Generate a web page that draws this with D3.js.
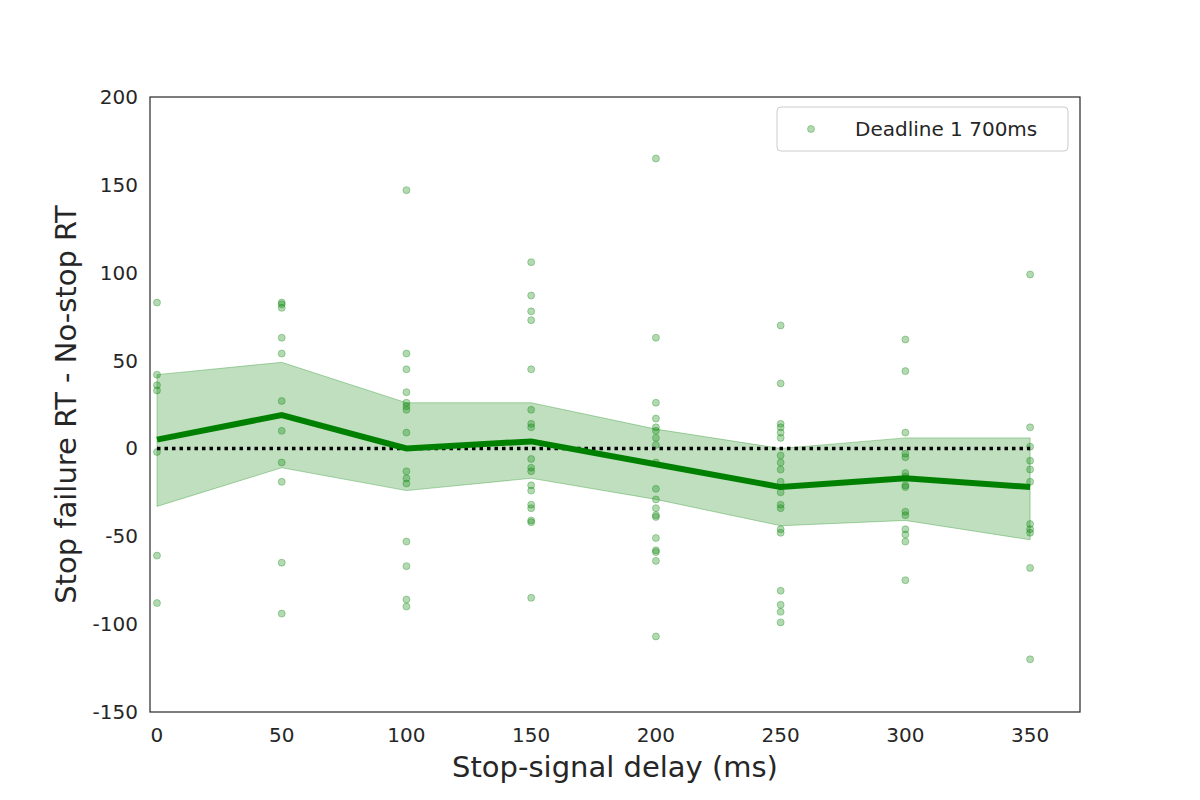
<!DOCTYPE html>
<html><head><meta charset="utf-8">
<script src="https://cdn.jsdelivr.net/npm/d3@7"></script>
<style>body{margin:0;background:#fff}text{font-family:"DejaVu Sans",sans-serif;fill:#262626}</style>
</head><body><svg width="1200" height="800"></svg>
<script>
const delays = [0, 50, 100, 150, 200, 250, 300, 350];
const meanDiff = [5, 19, 0, 4, -9, -22, -17, -22];
const bandUpper = [42, 49, 26, 26, 11, 0, 6, 6];
const bandLower = [-33, -11, -24, -17, -29, -44, -41, -52];
const subjectDiffs = [
  [83, 42, 36, 33, -2, -61, -88],
  [83, 82, 80, 63, 54, 27, 10, -8, -19, -65, -94],
  [147, 54, 45, 32, 26, 24, 22, 9, -13, -17, -20, -53, -67, -86, -90],
  [106, 87, 78, 73, 45, 22, 14, 12, -6, -11, -13, -21, -24, -32, -34, -41, -42, -85],
  [165, 63, 26, 17, 12, 10, 6, 2, -8, -23, -29, -34, -38, -39, -51, -58, -59, -64, -107],
  [70, 37, 14, 12, 9, 6, -4, -8, -12, -19, -25, -32, -34, -46, -48, -81, -89, -93, -99],
  [62, 44, 9, -3, -5, -14, -16, -21, -22, -36, -38, -46, -49, -53, -75],
  [99, 12, 1, -7, -12, -19, -43, -46, -48, -68, -120]
];
const yTicks = [-150, -100, -50, 0, 50, 100, 150, 200];

const svg = d3.select('svg');
const m = {left: 150, top: 97, right: 1080, bottom: 712};
const x = d3.scaleLinear().domain([-2.8, 370]).range([m.left, m.right]);
const y = d3.scaleLinear().domain([-150, 200]).range([m.bottom, m.top]);
const col = 'green';

const band = delays.map((d, i) => ({d, lo: bandLower[i], hi: bandUpper[i]}));
svg.append('path').datum(band)
  .attr('fill', col).attr('fill-opacity', 0.25)
  .attr('stroke', col).attr('stroke-opacity', 0.3)
  .attr('d', d3.area().x(p => x(p.d)).y0(p => y(p.lo)).y1(p => y(p.hi)));

const pts = delays.flatMap((d, i) => subjectDiffs[i].map(v => ({d, v})));
svg.selectAll('circle.pt').data(pts).join('circle')
  .attr('cx', p => x(p.d)).attr('cy', p => y(p.v)).attr('r', 3.5)
  .attr('fill', col).attr('fill-opacity', 0.3)
  .attr('stroke', col).attr('stroke-opacity', 0.3);

svg.append('line').attr('x1', x(0)).attr('x2', x(350)).attr('y1', y(0)).attr('y2', y(0))
  .attr('stroke', '#000').attr('stroke-width', 3.5).attr('stroke-dasharray', '3.5,4');

svg.append('path').datum(delays.map((d, i) => [d, meanDiff[i]]))
  .attr('fill', 'none').attr('stroke', col).attr('stroke-width', 6)
  .attr('d', d3.line().x(p => x(p[0])).y(p => y(p[1])));

svg.append('rect').attr('x', m.left).attr('y', m.top)
  .attr('width', m.right - m.left).attr('height', m.bottom - m.top)
  .attr('fill', 'none').attr('stroke', '#262626').attr('stroke-width', 1.2);

svg.selectAll('text.xt').data(delays).join('text')
  .attr('x', d => x(d)).attr('y', m.bottom + 30).attr('text-anchor', 'middle')
  .attr('font-size', 20).text(d => d);
svg.selectAll('text.yt').data(yTicks).join('text')
  .attr('x', m.left - 12).attr('y', d => y(d) + 7).attr('text-anchor', 'end')
  .attr('font-size', 20).text(d => d);

svg.append('text').attr('x', (m.left + m.right) / 2).attr('y', 777)
  .attr('text-anchor', 'middle').attr('font-size', 29).text('Stop-signal delay (ms)');
svg.append('text').attr('transform', `translate(76,${(m.top + m.bottom) / 2}) rotate(-90)`)
  .attr('text-anchor', 'middle').attr('font-size', 29).text('Stop failure RT - No-stop RT');

const lg = svg.append('g').attr('transform', 'translate(777,107)');
lg.append('rect').attr('width', 291).attr('height', 44).attr('rx', 4)
  .attr('fill', '#fff').attr('stroke', '#ccc');
lg.append('circle').attr('cx', 34).attr('cy', 22).attr('r', 3.5)
  .attr('fill', col).attr('fill-opacity', 0.3).attr('stroke', col).attr('stroke-opacity', 0.3);
lg.append('text').attr('x', 78).attr('y', 29).attr('font-size', 20).text('Deadline 1 700ms');
</script></body></html>
